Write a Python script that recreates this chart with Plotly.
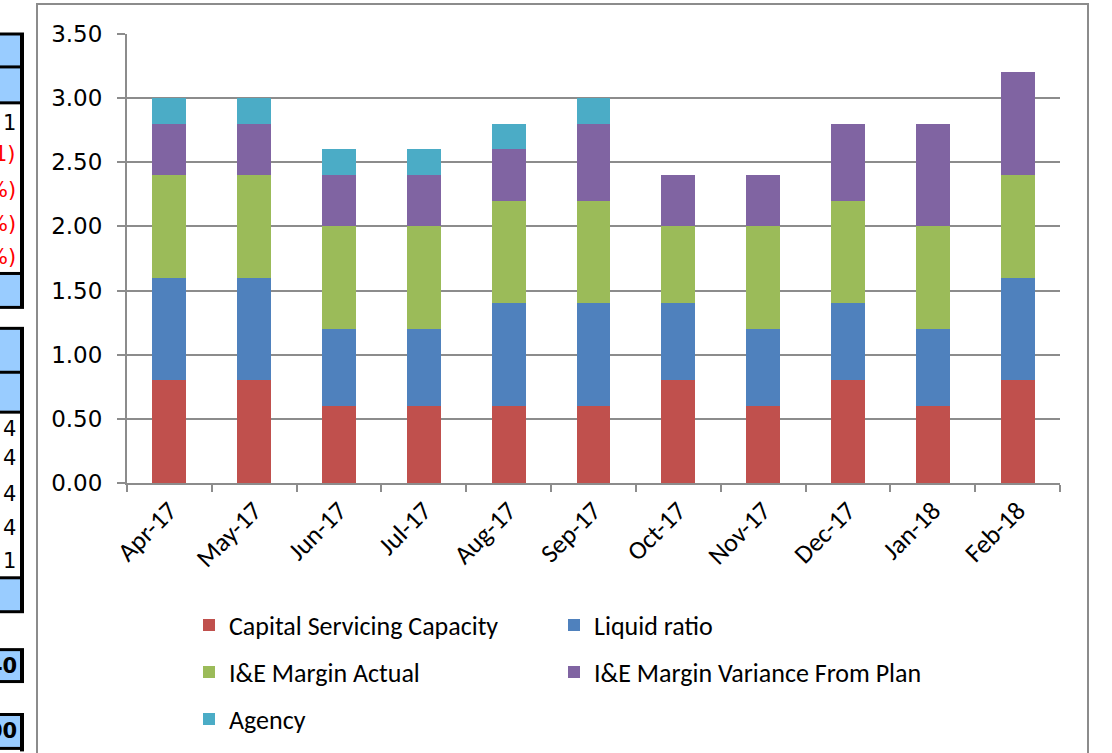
import plotly.graph_objects as go

months = ["Apr-17", "May-17", "Jun-17", "Jul-17", "Aug-17", "Sep-17",
          "Oct-17", "Nov-17", "Dec-17", "Jan-18", "Feb-18"]
capital_servicing = [0.8, 0.8, 0.6, 0.6, 0.6, 0.6, 0.8, 0.6, 0.8, 0.6, 0.8]
liquid_ratio      = [0.8, 0.8, 0.6, 0.6, 0.8, 0.8, 0.6, 0.6, 0.6, 0.6, 0.8]
ie_margin_actual  = [0.8, 0.8, 0.8, 0.8, 0.8, 0.8, 0.6, 0.8, 0.8, 0.8, 0.8]
ie_margin_var     = [0.4, 0.4, 0.4, 0.4, 0.4, 0.6, 0.4, 0.4, 0.6, 0.8, 0.8]
agency            = [0.2, 0.2, 0.2, 0.2, 0.2, 0.2, 0.0, 0.0, 0.0, 0.0, 0.0]

series_names = ["Capital Servicing Capacity", "Liquid ratio", "I&E Margin Actual",
                "I&E Margin Variance From Plan", "Agency"]
series_values = [capital_servicing, liquid_ratio, ie_margin_actual, ie_margin_var, agency]
series_colors = ["#C0504D", "#4F81BD", "#9BBB59", "#8064A2", "#4BACC6"]

W, H = 1112, 753
L, R, T, B = 127, 1060, 34, 484

def px_x(p):
    return (p - L) / (R - L)

def px_y(p):
    return (B - p) / (B - T)

legend_ids = ["legend", "legend2", "legend3", "legend4", "legend5"]
# legend grid positions (pixel): two columns, three rows
legend_pos = [(189, 625), (554, 625), (189, 672), (554, 672), (189, 719)]

fig = go.Figure()
for name, vals, color, lg in zip(series_names, series_values, series_colors, legend_ids):
    fig.add_trace(go.Bar(x=months, y=vals, name=name, legend=lg,
                         marker=dict(color=color, line=dict(width=0))))

text_font = "Carlito, 'Liberation Sans Narrow', 'Open Sans', sans-serif"
legend_layout = {}
for lg, (lx, ly) in zip(legend_ids, legend_pos):
    legend_layout[lg] = dict(x=px_x(lx), y=px_y(ly), orientation="v",
                             font=dict(family=text_font, size=26, color="#000"),
                             bgcolor="rgba(0,0,0,0)", itemwidth=30,
                             xanchor="left", yanchor="middle")

shapes = []
# outer chart border
shapes.append(dict(type="rect", xref="paper", yref="paper",
                   x0=px_x(37), x1=px_x(1088), y0=px_y(770), y1=px_y(4),
                   line=dict(color="#8C8C8C", width=2), fillcolor="rgba(0,0,0,0)", layer="below"))

# spreadsheet fragment at far left
blue_cells = [(34, 67), (67, 103), (274, 308), (329, 373), (373, 413), (579, 613), (651, 683), (716, 750)]
for y0, y1 in blue_cells:
    shapes.append(dict(type="rect", xref="paper", yref="paper",
                       x0=px_x(-5), x1=px_x(21), y0=px_y(y1), y1=px_y(y0),
                       line=dict(width=0), fillcolor="#99CCFF", layer="below"))
for y in [34, 67, 103, 274, 308, 329, 373, 413, 579, 613, 651, 683, 716, 750]:
    shapes.append(dict(type="line", xref="paper", yref="paper",
                       x0=px_x(-5), x1=px_x(24), y0=px_y(y), y1=px_y(y),
                       line=dict(color="#000", width=3)))
for y0, y1 in [(34, 308), (329, 613), (651, 683), (716, 753)]:
    shapes.append(dict(type="line", xref="paper", yref="paper",
                       x0=px_x(22), x1=px_x(22), y0=px_y(y1), y1=px_y(y0),
                       line=dict(color="#000", width=4)))

frag_texts = [("1", 123, "#000"), ("1)", 154, "#FF0000"), ("%)", 190, "#FF0000"),
              ("%)", 224, "#FF0000"), ("%)", 257, "#FF0000"),
              ("4", 430, "#000"), ("4", 459, "#000"), ("4", 495, "#000"),
              ("4", 529, "#000"), ("1", 562, "#000")]
annotations = []
for t, y, c in frag_texts:
    annotations.append(dict(text=t, x=px_x(18), y=px_y(y), xref="paper", yref="paper",
                            xanchor="right", yanchor="middle", showarrow=False,
                            font=dict(family="DejaVu Sans", size=21, color=c)))
for t, y in [("40", 667), ("00", 733)]:
    annotations.append(dict(text="<b>" + t + "</b>", x=px_x(19), y=px_y(y), xref="paper", yref="paper",
                            xanchor="right", yanchor="middle", showarrow=False,
                            font=dict(family="DejaVu Sans", size=21, color="#000")))

fig.update_layout(
    width=W, height=H,
    margin=dict(l=L, r=W - R, t=T, b=H - B, pad=0),
    barmode="stack", bargap=0.6,
    paper_bgcolor="white", plot_bgcolor="white",
    showlegend=True,
    shapes=shapes, annotations=annotations,
    xaxis=dict(tickangle=-45, tickson="boundaries", ticks="outside", ticklen=7,
               tickcolor="#8C8C8C", tickwidth=2, showline=True, linecolor="#8C8C8C", linewidth=2,
               showgrid=False, tickfont=dict(family=text_font, size=26, color="#000")),
    yaxis=dict(range=[0, 3.5], dtick=0.5, tickformat=".2f", ticks="outside", ticklen=8,
               tickcolor="#8C8C8C", tickwidth=2, showline=True, linecolor="#8C8C8C", linewidth=2,
               showgrid=True, gridcolor="#8C8C8C", gridwidth=1.5, zeroline=False,
               ticklabelstandoff=10,
               tickfont=dict(family="DejaVu Sans", size=23, color="#000")),
    **legend_layout,
)

fig.write_html("out.html", config={"displayModeBar": False},
               post_script="document.body.style.margin='0px';")
